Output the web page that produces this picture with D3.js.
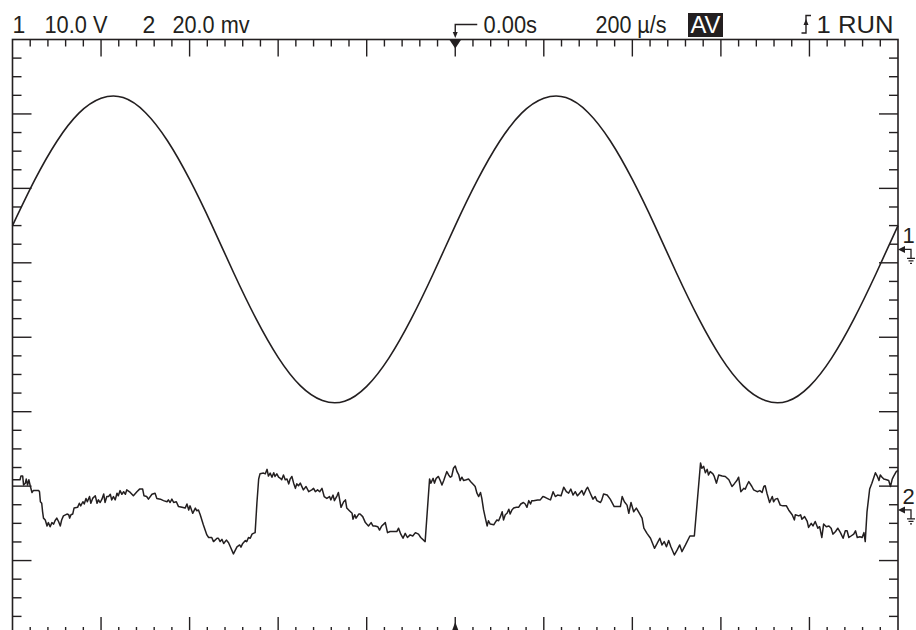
<!DOCTYPE html>
<html><head><meta charset="utf-8">
<script src="https://cdn.jsdelivr.net/npm/d3@7"></script>
<style>
html,body{margin:0;padding:0;background:#fff;}
svg{display:block;font-family:"Liberation Sans",Arial,Helvetica,sans-serif;}
</style>
</head><body>
<svg id="c" width="916" height="630"></svg>
<script>
// ---------- settings ----------
const timeDomain = [-1000, 1000];          // µs, 200 µs/div, trigger at 0.00s
const ch1VoltsPerDiv = 10;                 // V/div
const ch2MilliVoltsPerDiv = 20;            // mV/div
const ch1OffsetDiv = 1.18;                 // ground marker position (divisions above centre)
const ch2OffsetDiv = -2.32;

// ---------- header labels ----------
const headerLabels = ["1", "10.0 V", "2", "20.0 mv", "0.00s", "200 \u00b5/s", "AV", "1 RUN"];
const channelLabels = ["1", "2"];

// ---------- channel 1 (V) ----------
const ch1Time = [-1000,-950,-900,-850,-800,-750,-700,-650,-600,-550,-500,-450,-400,-350,-300,-250,-200,-150,-100,-50,
  0,50,100,150,200,250,300,350,400,450,500,550,600,650,700,750,800,850,900,950,1000];
const ch1Volts = [3.2,9.3,14.5,18.3,20.3,20.4,18.4,14.6,9.4,3.3,-3.2,-9.3,-14.5,-18.3,-20.3,-20.4,-18.4,-14.6,-9.4,-3.3,
  3.2,9.3,14.5,18.3,20.3,20.4,18.4,14.6,9.4,3.3,-3.2,-9.3,-14.5,-18.3,-20.3,-20.4,-18.4,-14.6,-9.4,-3.3,3.2];

// ---------- channel 2 (mV) ----------
const ch2Time = [-1000,-983,-981,-977,-975,-971,-969,-966,-963,-960,-956,-953,-941,-939,-937,-934,-932,-930,-926,-922,-919,-915,-911,-907,-904,-900,-896,-892,-889,-885,-877,-873,-871,-868,-864,-861,-853,-849,-846,-841,-838,-834,-831,-826,-823,-819,-813,-809,-806,-802,-798,-794,-791,-787,-783,-779,-776,-772,-768,-764,-761,-757,-753,-749,-745,-742,-734,-727,-719,-713,-706,-703,-697,-693,-685,-678,-674,-666,-659,-651,-648,-644,-640,-636,-630,-625,-617,-610,-606,-602,-599,-593,-587,-584,-580,-576,-569,-561,-557,-550,-546,-538,-535,-531,-527,-523,-517,-512,-508,-501,-493,-487,-484,-480,-474,-471,-467,-463,-459,-456,-452,-448,-444,-441,-433,-429,-425,-422,-418,-414,-410,-407,-403,-399,-395,-392,-388,-384,-380,-376,-373,-369,-365,-361,-358,-354,
  -350,-343,-337,-331,-324,-320,-316,-311,-306,-301,-296,-290,-284,-281,-276,-273,-267,-264,-258,-252,-248,-245,-239,-233,-231,-227,-224,-218,-215,-209,-203,-200,-196,-190,-186,-181,-175,-171,-166,-158,-153,-147,-139,-132,-128,-123,-118,-113,-108,-102,-96,-90,-83,-78,-68,-58,-55,-50,-47,-43,-38,-34,-30,-26,-19,-15,-11,-8,-4,0,4,8,11,15,19,25,30,35,42,45,49,53,57,60,64,68,72,75,79,87,90,94,98,102,106,109,113,117,121,124,128,132,138,143,148,154,158,162,166,170,173,177,186,192,198,203,211,215,221,226,231,239,245,251,256,261,266,271,276,281,286,290,296,299,305,311,316,320,328,
  331,335,343,350,359,373,377,382,388,392,397,403,409,414,422,426,433,441,450,456,462,467,472,477,482,487,495,501,507,512,520,530,540,554,557,561,565,569,572,576,582,585,590,595,603,610,618,625,630,636,640,645,652,655,659,663,670,674,682,688,693,697,700,704,710,716,719,723,728,734,740,748,753,761,766,768,776,780,783,789,795,798,804,808,813,819,823,828,832,838,844,849,853,859,864,870,876,881,885,889,894,900,904,908,914,919,923,926,930,936,941,949,953,957,960,964,968,974,979,983,987,990,996,1000];
const ch2mV = [8.1,8.1,9.1,9.1,6.7,7.2,8.3,6.7,8.1,6.5,4.7,5.2,5.2,4.9,2.2,1.8,-0.5,-2.2,-2.7,-4.3,-3.4,-4.5,-3.4,-3.8,-2.9,-2.2,-3.1,-4.3,-2.7,-1.6,-1.1,-1.3,-2.2,-1.3,-1.1,0.5,0.7,1.8,1.1,2.2,1.6,3.1,2.2,3.6,1.8,3.1,3.8,1.8,2.7,2.0,2.9,4.3,2.0,3.6,3.6,4.2,2.7,3.6,2.7,4.5,3.8,5.2,4.2,4.9,4.2,5.4,4.7,3.8,4.9,5.6,5.6,3.8,3.6,2.9,4.2,4.5,3.1,2.9,2.5,2.2,2.7,2.0,2.9,2.0,2.2,0.9,0.7,0.5,1.6,0.0,1.1,-0.9,0.5,-0.2,0.0,-1.3,-4.0,-6.7,-7.4,-7.4,-8.5,-7.6,-7.6,-8.5,-7.9,-9.0,-8.1,-8.8,-9.9,-11.8,-9.9,-9.4,-10.0,-9.0,-8.2,-8.5,-7.4,-7.6,-6.5,-6.3,-6.1,1.8,8.3,9.7,9.9,9.7,10.9,9.1,9.9,8.8,10.0,9.0,9.7,8.8,8.5,8.1,9.4,8.1,8.3,7.0,8.3,9.0,7.2,5.8,7.0,6.5,
  7.2,5.4,6.3,4.9,5.4,5.8,4.9,5.4,4.9,5.8,3.6,3.1,3.6,2.7,4.0,2.5,3.8,4.7,0.7,2.2,2.7,0.5,-0.2,-0.9,-2.5,-1.3,-2.2,-1.1,-1.1,-1.8,-3.4,-3.8,-4.3,-3.4,-4.3,-4.3,-4.5,-5.4,-4.3,-3.4,-6.1,-5.8,-5.8,-5.8,-4.9,-6.5,-7.6,-6.3,-7.4,-6.7,-7.0,-6.1,-6.5,-7.4,-8.5,8.3,7.2,8.5,7.2,8.5,9.0,7.9,6.7,7.9,10.3,9.4,8.8,9.0,11.2,11.8,10.3,9.4,7.9,8.8,7.9,8.1,8.3,7.6,6.7,6.3,4.5,3.6,4.7,3.1,0.0,-2.2,-4.3,-2.9,-3.8,-4.0,-3.4,-2.7,-2.9,-1.8,-0.5,-2.7,-1.3,-0.9,0.2,-1.1,0.0,0.5,0.7,0.7,1.6,2.0,1.6,0.7,2.5,1.6,2.5,2.5,2.7,2.7,3.6,3.4,2.9,2.7,4.9,3.6,4.0,3.8,6.1,4.9,4.5,5.6,4.0,4.9,3.8,4.5,5.2,4.0,5.6,6.1,4.5,2.9,3.6,2.5,2.0,
  2.7,4.3,4.0,2.9,0.9,0.9,3.6,2.2,1.3,-0.9,2.0,-0.5,0.5,-0.5,-2.2,-4.9,-6.3,-7.6,-10.3,-9.0,-7.6,-9.4,-8.5,-9.9,-8.2,-9.9,-12.1,-10.8,-9.4,-11.2,-9.4,-7.0,-7.0,12.6,11.2,11.7,10.0,10.9,9.4,10.3,9.7,9.0,7.2,9.4,9.1,9.0,8.1,6.3,7.0,7.9,8.8,4.9,5.8,5.6,6.7,7.6,6.3,5.4,4.9,5.2,4.7,6.3,6.5,4.5,2.0,3.6,2.2,2.9,3.1,1.3,1.1,1.1,0.0,-1.3,-2.7,-1.3,-1.6,-1.3,-2.5,-1.8,-3.1,-4.7,-3.6,-4.3,-3.1,-4.9,-4.5,-7.4,-3.8,-4.5,-4.3,-4.9,-6.5,-5.8,-4.9,-6.1,-7.6,-5.6,-5.6,-7.4,-7.0,-6.5,-5.6,-7.4,-7.2,-7.4,-6.1,-8.5,-0.5,5.6,7.2,10.0,9.1,7.9,9.4,8.8,8.3,8.1,7.9,6.3,8.3,9.0,10.3,10.6];

// ---------- drawing ----------
const ink = "#231f20";
const svg = d3.select("#c");
const L = 12.5, R = 898, T = 39.5, B = 635;

const x = d3.scaleLinear().domain(timeDomain).range([L, R]);
const yDiv = d3.scaleLinear().domain([-4, 4]).range([B, T]);
const y1 = d3.scaleLinear()
  .domain([(-4 - ch1OffsetDiv) * ch1VoltsPerDiv, (4 - ch1OffsetDiv) * ch1VoltsPerDiv]).range([B, T]);
const y2 = d3.scaleLinear()
  .domain([(-4 - ch2OffsetDiv) * ch2MilliVoltsPerDiv, (4 - ch2OffsetDiv) * ch2MilliVoltsPerDiv]).range([B, T]);

// frame
svg.append("rect").attr("x", L).attr("y", T).attr("width", R - L).attr("height", B - T)
  .attr("fill", "none").attr("stroke", ink).attr("stroke-width", 1.6);

// graticule edge ticks
const xTicks = d3.range(1, 50).map(k => ({ v: timeDomain[0] + k * 40, major: k % 5 === 0 }));
const yTicks = d3.range(1, 32).map(k => ({ v: -4 + k * 0.25, major: k % 4 === 0 }));
const tg = svg.append("g").attr("stroke", ink).attr("stroke-width", 1.4);
tg.selectAll(".tt").data(xTicks).join("line")
  .attr("x1", d => x(d.v)).attr("x2", d => x(d.v)).attr("y1", T).attr("y2", d => T + (d.major ? 17 : 7));
tg.selectAll(".tb").data(xTicks).join("line")
  .attr("x1", d => x(d.v)).attr("x2", d => x(d.v)).attr("y1", B).attr("y2", d => B - (d.major ? 18 : 8));
tg.selectAll(".tl").data(yTicks).join("line")
  .attr("y1", d => yDiv(d.v)).attr("y2", d => yDiv(d.v)).attr("x1", L).attr("x2", d => L + (d.major ? 19 : 9));
tg.selectAll(".tr").data(yTicks).join("line")
  .attr("y1", d => yDiv(d.v)).attr("y2", d => yDiv(d.v)).attr("x1", R).attr("x2", d => R - (d.major ? 19 : 9));

// traces
const d1 = ch1Time.map((t, i) => ({ t, v: ch1Volts[i] }));
const d2 = ch2Time.map((t, i) => ({ t, v: ch2mV[i] }));
svg.append("path").datum(d1)
  .attr("d", d3.line().x(d => x(d.t)).y(d => y1(d.v)).curve(d3.curveNatural))
  .attr("fill", "none").attr("stroke", ink).attr("stroke-width", 1.6);
svg.append("path").datum(d2)
  .attr("d", d3.line().x(d => x(d.t)).y(d => y2(d.v)))
  .attr("fill", "none").attr("stroke", ink).attr("stroke-width", 1.5).attr("stroke-linejoin", "round");

// trigger position markers
const xc = x(0);
svg.append("path").attr("d", `M${xc + 22},24.5 H${xc} V34`).attr("fill", "none").attr("stroke", ink).attr("stroke-width", 1.4);
svg.append("path").attr("d", `M${xc - 2.5},32 L${xc + 2.5},32 L${xc},38 Z`).attr("fill", ink);
svg.append("path").attr("d", `M${xc - 6},${T} L${xc + 6},${T} L${xc},${T + 9} Z`).attr("fill", ink);
svg.append("path").attr("d", `M${xc - 3},630 L${xc + 3},630 L${xc},622 Z`).attr("fill", ink);

// header text
const hdr = svg.append("g").attr("font-size", 23).attr("fill", ink);
const hdrPos = [
  { x: 12.5, w: null }, { x: 44.5, w: 63 }, { x: 142.5, w: null }, { x: 172.5, w: 77 },
  { x: 483.5, w: 53.5 }, { x: 595.5, w: 71 }, { x: 705.5, w: 30 }, { x: 816.5, w: 77 }
];
headerLabels.forEach((s, i) => {
  const p = hdrPos[i];
  if (s === "AV") {
    hdr.append("rect").attr("x", 688).attr("y", 13).attr("width", 35).attr("height", 24).attr("fill", ink);
    hdr.append("text").attr("x", p.x).attr("y", 32.5).attr("text-anchor", "middle").attr("fill", "#fff")
      .attr("textLength", p.w).attr("lengthAdjust", "spacingAndGlyphs").text(s);
  } else {
    const t = hdr.append("text").attr("x", p.x).attr("y", 32.5).text(s);
    if (p.w) t.attr("textLength", p.w).attr("lengthAdjust", "spacingAndGlyphs");
  }
});
// trigger slope symbol
svg.append("path").attr("d", "M801.5,33 H806 V15.5 H811").attr("fill", "none").attr("stroke", ink).attr("stroke-width", 1.4);
svg.append("path").attr("d", "M803.5,25 L808.5,25 L806,19 Z").attr("fill", ink);

// channel ground markers on the right
const grounds = [y1(0), y2(0)];
grounds.forEach((yg, i) => {
  const g = svg.append("g").attr("stroke", ink).attr("stroke-width", 1.3).attr("fill", "none");
  g.append("path").attr("d", `M${R + 6},${yg} H911 V${yg + 9}`);
  g.append("path").attr("d", `M907,${yg + 9} H915 M908.5,${yg + 11.5} H913.5 M910,${yg + 14} H912`);
  svg.append("path").attr("d", `M${R},${yg} L${R + 7},${yg - 3.5} L${R + 7},${yg + 3.5} Z`).attr("fill", ink);
  svg.append("text").attr("x", 902.5).attr("y", yg - 6).attr("font-size", 22).attr("fill", ink).text(channelLabels[i]);
});
</script>
</body></html>
